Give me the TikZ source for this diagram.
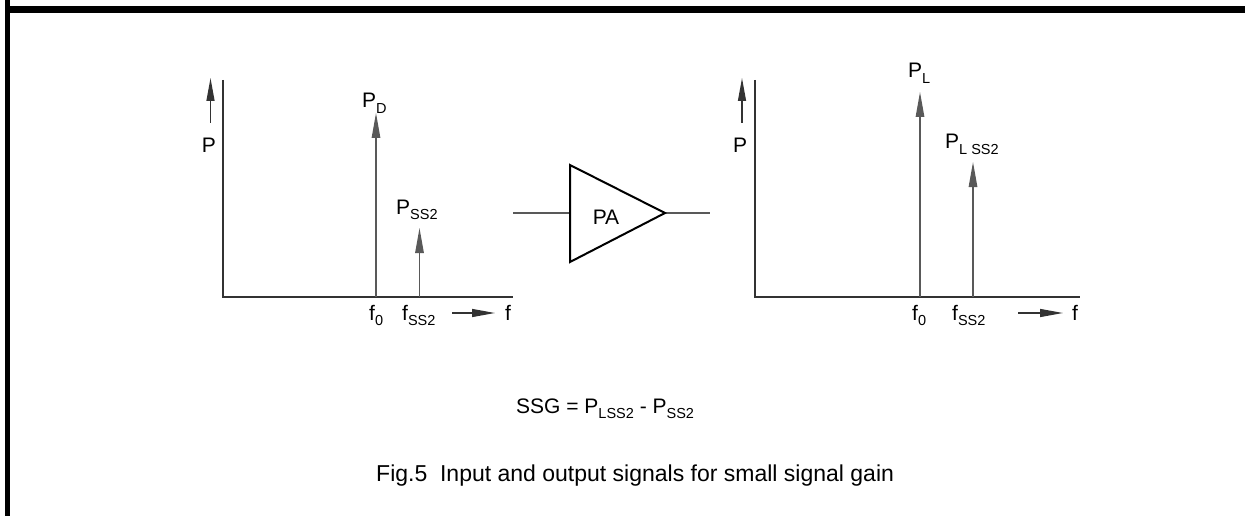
\documentclass[tikz,border=0pt]{standalone}
\usepackage{fontspec}
\setmainfont{Liberation Sans}
\usetikzlibrary{arrows.meta}
\newcommand\sbs[1]{\raisebox{-5.5pt}{\fontsize{14.5}{15}\selectfont #1}}
\begin{document}
\begin{tikzpicture}[x=1pt,y=-1pt,
  thin line/.style={line width=1.3pt,draw=black!65},
  axis line/.style={line width=1.4pt,draw=black!80},
  spec/.style={thin line,-{Triangle[length=25pt,width=8.5pt]}},
  sarrow/.style={line width=1.3pt,draw=black!80,-{Triangle[length=23pt,width=8pt]}},
  lbl/.style={font=\fontsize{21}{23}\selectfont,inner sep=0pt,anchor=base},
  lblw/.style={font=\fontsize{21}{23}\selectfont,inner sep=0pt,anchor=base west},
  amp/.style={line width=2pt,draw=black,line join=miter}
]
\useasboundingbox (0,0) rectangle (1245,516);
\fill[black] (5,6) rectangle (1245,13);
\fill[black] (5,0) rectangle (10,516);

% ---------- left chart ----------
\coordinate (LO) at (223,297);
\coordinate (LT) at (223,80);
\coordinate (LE) at (513,297);
\draw[axis line] (LT) -- (LO) -- (LE);
\coordinate (LPa) at (210.5,123);
\coordinate (LPb) at (210.5,78);
\draw[sarrow] (LPa) -- (LPb);
\node[lbl] (LP) at (209,153) {P};
\coordinate (LD0) at (376,297);
\coordinate (LD1) at (376,113);
\draw[spec] (LD0) -- (LD1);
\node[lblw] (LPD) at (362,108) {P\sbs{D}};
\coordinate (LS0) at (419.5,297);
\coordinate (LS1) at (419.5,228);
\draw[spec] (LS0) -- (LS1);
\node[lblw] (LPS) at (396,214) {P\sbs{SS2}};
\node[lblw] (Lf0) at (369,320) {f\sbs{0}};
\node[lblw] (Lfs) at (402,320) {f\sbs{SS2}};
\coordinate (LFa) at (452,313);
\coordinate (LFb) at (495,313);
\draw[sarrow] (LFa) -- (LFb);
\node[lblw] (Lf) at (505,320) {f};

% ---------- amplifier ----------
\coordinate (Ain) at (513,213);
\coordinate (Aout) at (710,213);
\coordinate (AT) at (570,165);
\coordinate (AB) at (570,262);
\coordinate (AX) at (665,213);
\coordinate (AL) at (570,213);
\draw[thin line] (Ain) -- (AL);
\draw[thin line] (AX) -- (Aout);
\draw[amp] (AT) -- (AX) -- (AB) -- cycle;
\node[lbl] (PA) at (606,224) {PA};

% ---------- right chart ----------
\coordinate (RO) at (755,297);
\coordinate (RT) at (755,80);
\coordinate (RE) at (1080,297);
\draw[axis line] (RT) -- (RO) -- (RE);
\coordinate (RPa) at (742,123);
\coordinate (RPb) at (742,78);
\draw[sarrow] (RPa) -- (RPb);
\node[lbl] (RP) at (740,153) {P};
\coordinate (RL0) at (920,297);
\coordinate (RL1) at (920,92);
\draw[spec] (RL0) -- (RL1);
\node[lblw] (RPL) at (908,78) {P\sbs{L}};
\coordinate (RS0) at (973,297);
\coordinate (RS1) at (973,162);
\draw[spec] (RS0) -- (RS1);
\node[lblw] (RPS) at (945,149) {P\sbs{L SS2}};
\node[lblw] (Rf0) at (912,320) {f\sbs{0}};
\node[lblw] (Rfs) at (952,320) {f\sbs{SS2}};
\coordinate (RFa) at (1018,313);
\coordinate (RFb) at (1063,313);
\draw[sarrow] (RFa) -- (RFb);
\node[lblw] (Rf) at (1072,320) {f};

% ---------- formula and caption ----------
\node[lblw] (SSG) at (516,413) {SSG = P\sbs{LSS2} - P\sbs{SS2}};
\node[lblw,font=\fontsize{23}{25}\selectfont] (cap) at (376,481) {Fig.5\ \ Input and output signals for small signal gain};
\end{tikzpicture}
\end{document}
